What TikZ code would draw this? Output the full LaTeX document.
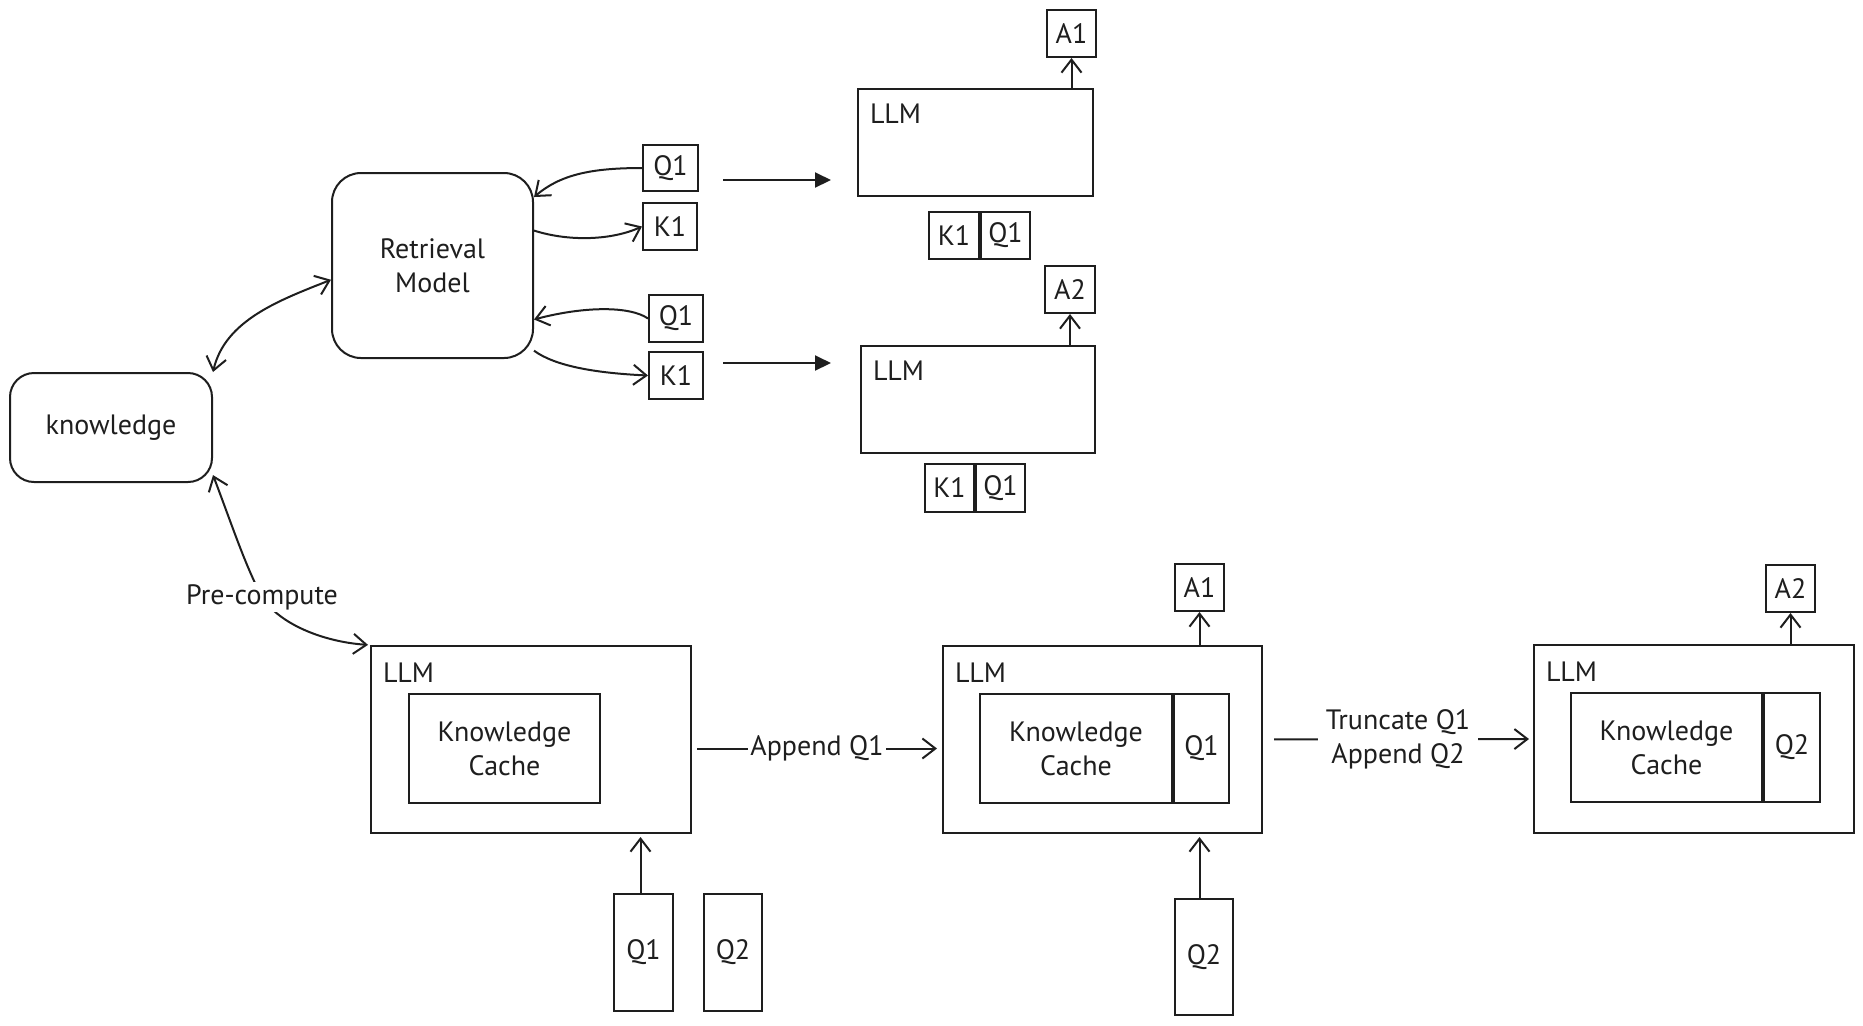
\documentclass[tikz,border=0pt]{standalone}
\usepackage{fontspec}
\setmainfont{PT Sans}
\usetikzlibrary{arrows.meta}
\definecolor{ink}{HTML}{1E1E1E}
\begin{document}
\begin{tikzpicture}[x=0.5pt,y=-0.5pt,
  font=\fontsize{14}{17}\selectfont,
  line width=1pt, draw=ink, text=ink,
  >={Straight Barb[length=6.5pt,width=10pt]},
  box/.style={draw=ink, line width=1pt, inner sep=0pt, align=center},
  rbox/.style={box, rounded corners=12pt},
  conn/.style={->, draw=ink},
  bothconn/.style={<->, draw=ink},
  bigarrow/.style={-{Triangle[length=8pt,width=7.5pt]}, draw=ink},
  tag/.style={anchor=north west, inner sep=0pt},
  edgelabel/.style={fill=white, inner sep=1pt, align=center}
]
\useasboundingbox (0,0) rectangle (1863,1025);

% ---------- retrieval-based pipeline ----------
\node[rbox, minimum width=101pt, minimum height=54.5pt] (know) at (111,427.5) {knowledge};
\node[rbox, rounded corners=14.5pt, minimum width=100.5pt, minimum height=92.5pt] (ret) at (432.5,265.5) {Retrieval\\Model};

\node[box, minimum width=27.5pt, minimum height=23pt] (q1a) at (670.5,168) {Q1};
\node[box, minimum width=27pt, minimum height=23.5pt] (k1a) at (670,226.5) {K1};
\node[box, minimum width=27pt, minimum height=23.5pt] (q1b) at (676,318.5) {Q1};
\node[box, minimum width=27pt, minimum height=23.5pt] (k1b) at (676,375.5) {K1};

\draw[bothconn] (know.north east) .. controls (225,320) and (280,300) .. (ret.188);
\draw[conn] (q1a.west) .. controls (590,168) and (560,175) .. (ret.34);
\draw[conn] (ret.19) .. controls (570,242) and (612,240) .. (k1a.west);
\draw[conn] (q1b.west) .. controls (630,306) and (585,306) .. (ret.-28);
\draw[conn] (ret.-40) .. controls (555,366) and (595,373) .. (k1b.west);

% first LLM call
\node[box, minimum width=117.5pt, minimum height=53.5pt] (llmA) at (975.5,142.5) {};
\node[tag] (llmAt) at ([xshift=6pt,yshift=-7.5pt]llmA.north west) {LLM};
\node[box, minimum width=24.5pt, minimum height=23.5pt] (a1top) at (1071.5,33.5) {A1};
\draw[conn] (llmA.north -| a1top) -- (a1top.south);
\node[box, minimum width=25pt, minimum height=23.5pt] (ctxAk) at (954,235.5) {K1};
\node[box, minimum width=24.5pt, minimum height=23.5pt, anchor=west] (ctxAq) at (ctxAk.east) {Q1};

% second LLM call
\node[box, minimum width=117pt, minimum height=53.5pt] (llmB) at (978,399.5) {};
\node[tag] (llmBt) at ([xshift=6pt,yshift=-7.5pt]llmB.north west) {LLM};
\node[box, minimum width=25pt, minimum height=23.5pt] (a2top) at (1070,289.5) {A2};
\draw[conn] (llmB.north -| a2top) -- (a2top.south);
\node[box, minimum width=24.5pt, minimum height=24pt] (ctxBk) at (949.5,488) {K1};
\node[box, minimum width=24.5pt, minimum height=24pt, anchor=west] (ctxBq) at (ctxBk.east) {Q1};

% feeding arrows
\coordinate (feedAs) at (723,180);
\coordinate (feedAe) at (831,180);
\coordinate (feedBs) at (723,363);
\coordinate (feedBe) at (831,363);
\draw[bigarrow] (feedAs) -- (feedAe);
\draw[bigarrow] (feedBs) -- (feedBe);

% ---------- cache-augmented pipeline ----------
\node[box, minimum width=160pt, minimum height=93.5pt] (llm1) at (531,739.5) {};
\node[tag] (llm1t) at ([xshift=6pt,yshift=-8.5pt]llm1.north west) {LLM};
\node[box, minimum width=95.5pt, minimum height=54.5pt] (kc1) at (504.5,748.5) {Knowledge\\Cache};

\node[box, minimum width=29.5pt, minimum height=58.5pt] (q1t) at (643.5,952.5) {Q1};
\node[box, minimum width=29pt, minimum height=58.5pt] (q2t) at (733,952.5) {Q2};
\draw[conn, shorten >=1.5pt] ([xshift=-1.5pt]q1t.north) -- ([xshift=-1.5pt]q1t.north |- llm1.south);

\draw[bothconn, shorten >=1pt] (know.-25) .. controls (232,525) and (245,565) .. (262,597)
  node[edgelabel] (pc) {Pre-compute}
  .. controls (280,625) and (325,642) .. (llm1.north west);

\node[box, minimum width=159.5pt, minimum height=93.5pt] (llm2) at (1102.5,739.5) {};
\node[tag] (llm2t) at ([xshift=6pt,yshift=-8.5pt]llm2.north west) {LLM};
\node[box, minimum width=96pt, minimum height=54.5pt] (kc2) at (1076,748.5) {Knowledge\\Cache};
\node[box, minimum width=27.5pt, minimum height=54.5pt, anchor=west] (q1c) at (kc2.east) {Q1};
\node[box, minimum width=24.5pt, minimum height=23.5pt] (a1b) at (1199.5,587.5) {A1};
\draw[conn] (llm2.north -| a1b) -- (a1b.south);
\node[box, minimum width=29pt, minimum height=58pt] (q2tb) at (1204,957) {Q2};
\draw[conn, shorten >=1.5pt] (q2tb.north -| a1b) -- (llm2.south -| a1b);

\draw[conn, shorten <=2.5pt, shorten >=2.5pt] (llm1.east |- kc1.center) -- (llm2.west |- kc1.center)
  node[midway, edgelabel] (appq1) {Append Q1};

\node[box, minimum width=160pt, minimum height=94pt] (llm3) at (1694,739) {};
\node[tag] (llm3t) at ([xshift=6pt,yshift=-8.5pt]llm3.north west) {LLM};
\node[box, minimum width=95.5pt, minimum height=54.5pt] (kc3) at (1666.5,747.5) {Knowledge\\Cache};
\node[box, minimum width=28pt, minimum height=54.5pt, anchor=west] (q2c) at (kc3.east) {Q2};
\node[box, minimum width=24.5pt, minimum height=23.5pt] (a2b) at (1790.5,588.5) {A2};
\draw[conn] (llm3.north -| a2b) -- (a2b.south);

\draw[conn, shorten <=5.5pt, shorten >=2pt] (llm2.east) -- (llm3.west)
  node[midway, edgelabel, inner sep=4pt] (trunc) {Truncate Q1\\Append Q2};
\end{tikzpicture}
\end{document}
